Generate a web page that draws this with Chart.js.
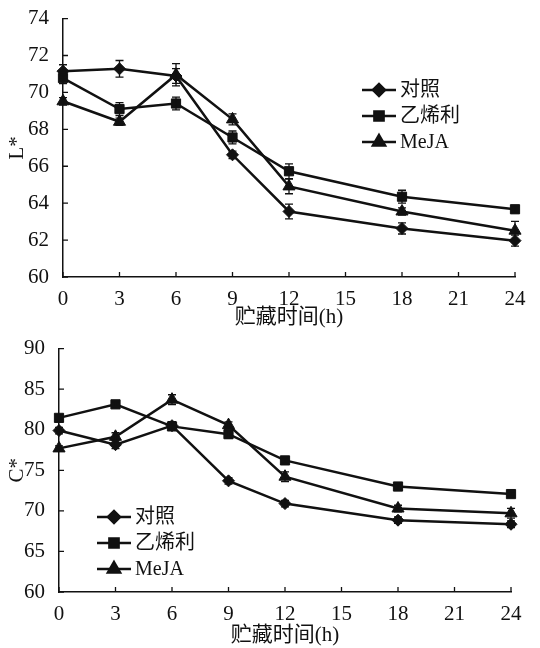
<!DOCTYPE html>
<html>
<head>
<meta charset="utf-8">
<script src="https://cdn.jsdelivr.net/npm/chart.js@4"></script>
<style>
html,body{margin:0;padding:0;background:#fff;}
#wrap{position:relative;width:540px;height:648px;}
canvas{position:absolute;left:0;}
#c1{top:0;}
#c2{top:330px;}
</style>
</head>
<body>
<div id="wrap">
<canvas id="c1" width="540" height="330"></canvas>
<canvas id="c2" width="540" height="318"></canvas>
</div>
<script>
// ---- data ----
const hours = [0, 3, 6, 9, 12, 18, 24];
const seriesNames = ['对照', '乙烯利', 'MeJA'];
const xTitle = '贮藏时间(h)';

// L* panel
const L_ctrl   = [71.15, 71.28, 70.89, 66.62, 63.55, 62.63, 61.97];
const L_eth    = [70.78, 69.10, 69.40, 67.56, 65.73, 64.35, 63.67];
const L_meja   = [69.52, 68.41, 70.96, 68.54, 64.91, 63.55, 62.51];
const L_ctrlErr = [0.35, 0.45, 0.40, 0.20, 0.40, 0.30, 0.30];
const L_ethErr  = [0.30, 0.35, 0.35, 0.35, 0.40, 0.35, 0.20];
const L_mejaErr = [0.20, 0.20, 0.60, 0.30, 0.40, 0.20, 0.50];

// C* panel
const C_ctrl   = [79.90, 78.16, 80.50, 73.70, 70.90, 68.85, 68.35];
const C_eth    = [81.46, 83.13, 80.41, 79.45, 76.22, 73.00, 72.07];
const C_meja   = [77.70, 79.13, 83.71, 80.57, 74.21, 70.29, 69.70];
const C_ctrlErr = [0.40, 0.50, 0.50, 0.40, 0.40, 0.40, 0.40];
const C_ethErr  = [0.30, 0.30, 0.50, 0.50, 0.30, 0.30, 0.30];
const C_mejaErr = [0.30, 0.50, 0.60, 0.40, 0.60, 0.40, 0.60];

const FONT = "'Liberation Serif', 'Times New Roman', 'Noto Sans CJK SC', serif";
const pointStyles = ['rectRot', 'rect', 'triangle'];
const pointRadii = [6, 6.5, 7];

function mkData(vals, errs) {
  return vals.map((v, i) => ({x: hours[i], y: v, e: errs[i]}));
}

const errorBars = {
  id: 'errorBars',
  afterDatasetsDraw(chart) {
    const ctx = chart.ctx, xs = chart.scales.x, ys = chart.scales.y;
    ctx.save();
    ctx.strokeStyle = '#111';
    ctx.lineWidth = 1.3;
    chart.data.datasets.forEach(ds => {
      ds.data.forEach(p => {
        const x = xs.getPixelForValue(p.x);
        const y1 = ys.getPixelForValue(p.y + p.e);
        const y2 = ys.getPixelForValue(p.y - p.e);
        ctx.beginPath();
        ctx.moveTo(x, y1); ctx.lineTo(x, y2);
        ctx.moveTo(x - 4, y1); ctx.lineTo(x + 4, y1);
        ctx.moveTo(x - 4, y2); ctx.lineTo(x + 4, y2);
        ctx.stroke();
      });
    });
    ctx.restore();
  }
};

const innerTicks = {
  id: 'innerTicks',
  afterDraw(chart) {
    const ctx = chart.ctx, xs = chart.scales.x, ys = chart.scales.y;
    const a = chart.chartArea;
    ctx.save();
    ctx.strokeStyle = '#111';
    ctx.lineWidth = 1.3;
    ctx.beginPath();
    xs.ticks.forEach(t => {
      const x = xs.getPixelForValue(t.value);
      ctx.moveTo(x, a.bottom); ctx.lineTo(x, a.bottom - 5);
    });
    ys.ticks.forEach(t => {
      const y = ys.getPixelForValue(t.value);
      ctx.moveTo(a.left, y); ctx.lineTo(a.left + 5, y);
    });
    ctx.stroke();
    ctx.restore();
  }
};

function legendPlugin(x0, y0) {
  return {
    id: 'customLegend',
    afterDraw(chart) {
      const ctx = chart.ctx;
      ctx.save();
      chart.data.datasets.forEach((ds, i) => {
        const y = y0 + i * 26;
        ctx.strokeStyle = '#111';
        ctx.lineWidth = 2.5;
        ctx.beginPath();
        ctx.moveTo(x0, y); ctx.lineTo(x0 + 34, y);
        ctx.stroke();
        ctx.fillStyle = '#111';
        Chart.helpers.drawPoint(ctx, {pointStyle: ds.pointStyle, radius: ds.pointRadius, rotation: 0, borderWidth: 1}, x0 + 17, y);
        ctx.fill();
        ctx.font = '20px ' + FONT;
        ctx.textBaseline = 'middle';
        ctx.textAlign = 'left';
        ctx.fillText(ds.label, x0 + 38, y + 1);
      });
      ctx.restore();
    }
  };
}

function makeChart(id, sets, yMin, yMax, yStep, yTitle, pad, yWidth, xHeight, legendPos) {
  const datasets = sets.map((s, i) => ({
    label: seriesNames[i],
    data: mkData(s[0], s[1]),
    borderColor: '#111',
    backgroundColor: '#111',
    borderWidth: 2.5,
    pointStyle: pointStyles[i],
    pointRadius: pointRadii[i],
    pointBorderWidth: 1,
    tension: 0,
    clip: false
  }));
  return new Chart(document.getElementById(id), {
    type: 'line',
    data: {datasets},
    options: {
      responsive: false,
      animation: false,
      devicePixelRatio: 1,
      layout: {padding: pad},
      plugins: {legend: {display: false}, tooltip: {enabled: false}},
      scales: {
        x: {
          type: 'linear', min: 0, max: 24,
          ticks: {stepSize: 3, color: '#111', font: {family: FONT, size: 21}, padding: 2, maxRotation: 0},
          grid: {display: false},
          border: {color: '#111', width: 1.5},
          title: {display: true, text: xTitle, color: '#111', font: {family: FONT, size: 21}, padding: {top: 0, bottom: 0}},
          afterFit(s) { s.height = xHeight; }
        },
        y: {
          min: yMin, max: yMax,
          ticks: {stepSize: yStep, color: '#111', font: {family: FONT, size: 21}, padding: 6},
          grid: {display: false},
          border: {color: '#111', width: 1.5},
          title: {display: true, text: yTitle, color: '#111', font: {family: FONT, size: 21}, padding: {top: 5, bottom: 0}},
          afterFit(s) { s.width = yWidth; }
        }
      }
    },
    plugins: [errorBars, innerTicks, legendPlugin(legendPos[0], legendPos[1])]
  });
}

makeChart('c1', [[L_ctrl, L_ctrlErr], [L_eth, L_ethErr], [L_meja, L_mejaErr]],
  60, 74, 2, 'L*', {top: 17, right: 25, left: 0, bottom: 0}, 63, 53, [362, 90]);
makeChart('c2', [[C_ctrl, C_ctrlErr], [C_eth, C_ethErr], [C_meja, C_mejaErr]],
  60, 90, 5, 'C*', {top: 5, right: 29, left: 0, bottom: 0}, 59, 56, [97, 187]);
</script>
</body>
</html>
